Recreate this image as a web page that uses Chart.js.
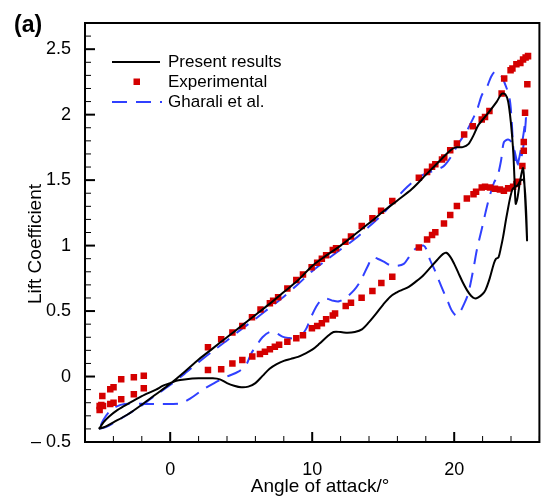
<!DOCTYPE html>
<html>
<head>
<meta charset="utf-8">
<script src="https://cdn.jsdelivr.net/npm/chart.js@4.4.1/dist/chart.umd.min.js"></script>
<style>
  html, body { margin: 0; padding: 0; background: #fff; }
  canvas { display: block; }
</style>
</head>
<body>
<canvas id="liftChart" width="544" height="498"></canvas>
<script>
// Rango de ejes y marcas
const xMin = -6, xMax = 26;
const yMin = -0.5, yMax = 2.7;
const xTicks = [0, 10, 20];
const yTicks = [-0.5, 0, 0.5, 1, 1.5, 2, 2.5];

// Present results (ciclo completo: subida y bajada)
const presAlpha = [-5.03, -4.6, -4.0, -3.0, -2.0, -1.0, 0.0, 1.0, 2.0, 3.0, 4.0, 5.0, 6.0, 7.0, 8.0, 9.0,
    10.0, 11.0, 12.0, 13.0, 14.0, 15.0, 16.0, 17.0, 18.0, 19.0, 19.7, 20.1, 20.6, 21.0, 21.35, 21.7,
    22.3, 23.0, 23.35, 23.6, 23.8, 24.0, 24.15, 24.25, 24.33, 24.45, 24.65, 24.85, 25.0, 25.13,
    25.05, 24.9, 24.7, 24.45, 24.1, 23.7, 23.45, 23.3, 23.12, 22.95, 22.8, 22.5, 22.2, 22.0, 21.7,
    21.45, 21.2, 20.9, 20.6, 20.3, 20.0, 19.75, 19.45, 19.2, 18.8, 18.3, 17.8, 17.3, 16.8, 16.3,
    16.0, 15.5, 15.0, 14.5, 14.0, 13.5, 13.0, 12.5, 12.0, 11.5, 11.0, 10.5, 10.0, 9.5, 9.0, 8.5,
    8.0, 7.5, 7.0, 6.5, 6.0, 5.5, 5.0, 4.5, 4.0, 3.5, 3.0, 2.0, 1.0, 0.5, 0.0, -0.5, -1.0, -2.0,
    -3.0, -3.7, -4.3, -4.7, -4.95, -5.03];
const presCl = [-0.40, -0.385, -0.35, -0.29, -0.215, -0.135, -0.055, 0.035, 0.13, 0.215, 0.30, 0.385,
    0.47, 0.555, 0.645, 0.735, 0.845, 0.925, 1.0, 1.085, 1.17, 1.26, 1.345, 1.43, 1.54, 1.65, 1.725,
    1.75, 1.752, 1.775, 1.84, 1.92, 2.0, 2.1, 2.16, 2.155, 2.1, 1.93, 1.73, 1.5, 1.32, 1.36, 1.5,
    1.59, 1.35, 1.04,
    1.3, 1.5, 1.5, 1.46, 1.43, 1.23, 1.07, 0.99, 0.91, 0.9, 0.865, 0.75, 0.66, 0.63, 0.605,
    0.597, 0.615, 0.66, 0.72, 0.79, 0.86, 0.91, 0.945, 0.935, 0.89, 0.83, 0.77, 0.725, 0.685, 0.66,
    0.645, 0.61, 0.55, 0.48, 0.415, 0.36, 0.34, 0.334, 0.34, 0.34, 0.30, 0.25, 0.205, 0.175, 0.15, 0.135,
    0.12, 0.095, 0.06, 0.005, -0.05, -0.077, -0.082, -0.07, -0.05, -0.022, -0.014, -0.014, -0.022, -0.03,
    -0.05, -0.07, -0.10, -0.15, -0.21, -0.255, -0.305, -0.35, -0.39, -0.40];

// Experimental
const expAlpha = [-4.97, -4.97, -4.85, -4.73, -4.78, -4.22, -3.99, -3.45, -2.56, -1.86,
    -4.22, -3.99, -3.45, -2.56, -1.86,
    2.66, 3.59, 4.38, 5.08, 5.76, 6.36, 7.02, 7.25, 7.6, 8.25, 8.88, 9.35, 9.96, 10.35, 10.68, 10.98,
    11.45, 11.68, 12.34, 12.73, 13.49, 14.24, 14.85, 15.64, 17.51, 18.09, 18.44, 18.67, 19.14, 19.3,
    19.72, 20.19, 20.7, 21.31, 21.94, 22.17, 22.48, 23.34, 23.52, 23.97, 24.1, 24.38, 24.66, 24.85,
    25.03, 25.2,
    25.15, 24.99, 24.9, 24.9, 24.8, 24.5, 24.38, 24.15, 23.8, 23.5, 23.22, 22.87, 22.52, 22.17, 21.94,
    21.54, 21.36, 20.89, 20.19, 19.72, 19.28, 18.67, 18.44, 18.09, 17.51,
    15.64, 14.87, 14.24, 13.48, 12.73, 12.36, 11.61, 11.45, 10.98, 10.68, 10.35, 9.98, 9.35, 8.88,
    8.25, 7.67, 7.37, 7.02, 6.67, 6.32, 5.78, 5.08, 4.38, 3.59, 2.66];
const expCl = [-0.256, -0.225, -0.218, -0.225, -0.149, -0.098, -0.082, -0.021, -0.006, 0.006,
    -0.21, -0.20, -0.174, -0.136, -0.09,
    0.223, 0.284, 0.336, 0.385, 0.452, 0.511, 0.559, 0.579, 0.605, 0.673, 0.737, 0.779, 0.834, 0.869,
    0.899, 0.927, 0.966, 0.979, 1.029, 1.07, 1.149, 1.208, 1.266, 1.34, 1.518, 1.563, 1.602, 1.622,
    1.658, 1.673, 1.729, 1.78, 1.849, 1.912, 1.963, 1.983, 2.027, 2.162, 2.276, 2.34, 2.353, 2.385,
    2.395, 2.421, 2.437, 2.447,
    2.233, 2.014, 1.792, 1.724, 1.607, 1.487, 1.47, 1.449, 1.437, 1.418, 1.429, 1.434, 1.444, 1.45,
    1.444, 1.411, 1.393, 1.36, 1.302, 1.233, 1.169, 1.101, 1.08, 1.047, 0.986,
    0.762, 0.714, 0.653, 0.602, 0.563, 0.538, 0.482, 0.466, 0.437, 0.406, 0.385, 0.368, 0.315, 0.292,
    0.266, 0.243, 0.227, 0.208, 0.189, 0.172, 0.153, 0.126, 0.10, 0.055, 0.05];

// Gharali et al.
const ghAlpha = [-5.0, -4.5, -4.0, -3.0, -2.0, -1.0, 0.0, 1.0, 2.0, 3.0, 4.0, 5.0, 6.0, 7.0, 8.0, 9.0,
    10.0, 11.0, 12.0, 13.0, 14.0, 15.0, 16.0, 16.7, 17.7, 18.5, 19.26, 19.84, 20.3, 20.8, 21.1, 21.6,
    21.95, 22.3, 22.6, 22.87, 23.1, 23.35, 23.7, 23.92, 24.05, 24.15, 24.27, 24.4, 24.6, 24.85, 25.05,
    24.9, 24.7, 24.5, 24.3, 24.1, 23.8, 23.5, 23.3, 23.05, 22.8, 22.45, 22.2, 21.95, 21.6, 21.4, 21.15,
    20.95, 20.7, 20.4, 20.15, 19.85, 19.6, 19.3, 18.9, 18.6, 18.3, 18.05, 17.85, 17.5, 17.15, 16.8,
    16.45, 16.0, 15.5, 15.0, 14.6, 14.25, 13.9, 13.4, 12.95, 12.4, 11.9, 11.5, 11.0, 10.6, 10.28, 9.93,
    9.6, 9.3, 8.8, 8.3, 7.9, 7.4, 7.0, 6.5, 6.1, 5.7, 5.35, 4.8, 4.0, 3.1, 2.3, 1.45, 0.75, 0.0, -1.0,
    -2.0, -3.2, -3.8, -4.3, -4.7, -5.0];
const ghCl = [-0.40, -0.385, -0.355, -0.29, -0.22, -0.14, -0.065, 0.02, 0.11, 0.195, 0.275, 0.36, 0.44,
    0.525, 0.61, 0.705, 0.805, 0.89, 0.97, 1.05, 1.145, 1.245, 1.37, 1.45, 1.535, 1.57, 1.607, 1.69,
    1.78, 1.86, 1.92, 2.035, 2.15, 2.21, 2.29, 2.33, 2.32, 2.29, 2.2, 2.11, 1.95, 1.76, 1.67, 1.6,
    1.68, 1.83, 1.98,
    1.78, 1.66, 1.62, 1.70, 1.78, 1.81, 1.79, 1.65, 1.53, 1.48, 1.36, 1.25, 1.13, 0.97, 0.85, 0.71,
    0.62, 0.555, 0.49, 0.465, 0.50, 0.56, 0.635, 0.74, 0.82, 0.89, 0.97, 1.0, 0.99, 0.965, 0.91,
    0.86, 0.845, 0.85, 0.88, 0.90, 0.91, 0.84, 0.73, 0.66, 0.605, 0.575, 0.578, 0.595, 0.58, 0.533,
    0.456, 0.37, 0.322, 0.292, 0.295, 0.305, 0.335, 0.34, 0.30, 0.24, 0.175, 0.09, 0.037, 0.0, -0.05,
    -0.10, -0.165, -0.205, -0.21, -0.21, -0.208, -0.21, -0.23, -0.27, -0.33, -0.40];

const fuente = "'Liberation Sans', Arial, Helvetica, sans-serif";
const rojo = '#d40000';
const azul = '#3040ff';

function puntos(xs, ys) {
    return xs.map((x, i) => ({ x: x, y: ys[i] }));
}

function linea(ctx, x1, y1, x2, y2) {
    ctx.beginPath();
    ctx.moveTo(x1, y1);
    ctx.lineTo(x2, y2);
    ctx.stroke();
}

// Marco, marcas hacia dentro, títulos de ejes y leyenda
const decoracion = {
    id: 'decoracion',
    afterDraw(chart) {
        const { ctx, chartArea: a, scales: { x, y } } = chart;
        ctx.save();
        ctx.strokeStyle = '#000';

        for (let v = xMin; v <= xMax; v += 2) {
            const px = x.getPixelForValue(v);
            const mayor = v % 10 === 0;
            ctx.lineWidth = mayor ? 2 : 1;
            linea(ctx, px, a.bottom, px, a.bottom - (mayor ? 10 : 6));
        }
        for (let i = 0; i <= Math.round((yMax - yMin) * 10); i++) {
            const v = yMin + i * 0.1;
            const py = y.getPixelForValue(v);
            const mayor = Math.abs(v * 2 - Math.round(v * 2)) < 1e-6;
            ctx.lineWidth = mayor ? 2 : 1;
            linea(ctx, a.left, py, a.left + (mayor ? 10 : 6), py);
        }

        ctx.lineWidth = 2;
        ctx.strokeRect(a.left, a.top, a.right - a.left, a.bottom - a.top);

        // títulos
        ctx.fillStyle = '#000';
        ctx.font = '19px ' + fuente;
        ctx.textAlign = 'center';
        ctx.textBaseline = 'alphabetic';
        ctx.fillText('Angle of attack/°', 320, 492);

        ctx.save();
        ctx.translate(41, 244);
        ctx.rotate(-Math.PI / 2);
        ctx.fillText('Lift Coefficient', 0, 0);
        ctx.restore();

        ctx.font = 'bold 23px ' + fuente;
        ctx.textAlign = 'left';
        ctx.textBaseline = 'middle';
        ctx.fillText('(a)', 14, 26);

        // leyenda
        ctx.font = '17px ' + fuente;
        ctx.textBaseline = 'middle';
        ctx.strokeStyle = '#000';
        ctx.lineWidth = 2;
        linea(ctx, 112, 62, 160, 62);
        ctx.fillText('Present results', 168, 62);

        ctx.fillStyle = rojo;
        ctx.fillRect(133.5, 78.5, 6.5, 6.5);
        ctx.fillStyle = '#000';
        ctx.fillText('Experimental', 168, 82);

        ctx.strokeStyle = azul;
        ctx.setLineDash([15, 9]);
        linea(ctx, 112, 102, 162, 102);
        ctx.setLineDash([]);
        ctx.fillText('Gharali et al.', 168, 102);

        ctx.restore();
    }
};

const ctx = document.getElementById('liftChart').getContext('2d');
window.liftChart = new Chart(ctx, {
    type: 'scatter',
    data: {
        datasets: [
            {
                label: 'Present results',
                data: puntos(presAlpha, presCl),
                showLine: true,
                borderColor: '#000',
                borderWidth: 2,
                pointRadius: 0,
                tension: 0.3,
                order: 0
            },
            {
                label: 'Experimental',
                data: puntos(expAlpha, expCl),
                showLine: false,
                pointStyle: 'rect',
                pointRadius: 4.6,
                backgroundColor: rojo,
                borderWidth: 0,
                order: 1
            },
            {
                label: 'Gharali et al.',
                data: puntos(ghAlpha, ghCl),
                showLine: true,
                borderColor: azul,
                borderWidth: 2,
                borderDash: [15, 9],
                pointRadius: 0,
                tension: 0.3,
                order: 2
            }
        ]
    },
    options: {
        responsive: false,
        animation: false,
        layout: { padding: { top: 23, right: 1, left: 0, bottom: 0 } },
        plugins: {
            legend: { display: false },
            tooltip: { enabled: false }
        },
        scales: {
            x: {
                type: 'linear',
                min: xMin,
                max: xMax,
                afterBuildTicks: s => { s.ticks = xTicks.map(v => ({ value: v })); },
                afterFit: s => { s.height = 56; },
                grid: { display: false },
                border: { display: false },
                ticks: {
                    autoSkip: false,
                    maxRotation: 0,
                    padding: 9,
                    color: '#000',
                    font: { family: fuente, size: 18 }
                }
            },
            y: {
                type: 'linear',
                min: yMin,
                max: yMax,
                afterBuildTicks: s => { s.ticks = yTicks.map(v => ({ value: v })); },
                afterFit: s => { s.width = 85; },
                grid: { display: false },
                border: { display: false },
                ticks: {
                    autoSkip: false,
                    padding: 6,
                    color: '#000',
                    font: { family: fuente, size: 18 },
                    callback: v => v < 0 ? '\u2013 ' + Math.abs(v) : String(v)
                }
            }
        }
    },
    plugins: [decoracion]
});
</script>
</body>
</html>
